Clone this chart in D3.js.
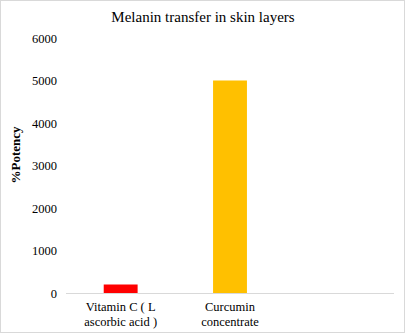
<!DOCTYPE html>
<html><head><meta charset="utf-8">
<script src="https://cdn.jsdelivr.net/npm/d3@7"></script>
<style>body{margin:0;background:#fff}svg{display:block}text{font-family:"Liberation Serif","Times New Roman",serif;fill:#000}</style>
</head><body><svg id="c" width="406" height="335"></svg>
<script>
const categories = [["Vitamin C ( L","ascorbic acid )"],["Curcumin","concentrate"],[""]];
const values = [200, 5000, null];
const colors = ["#FF0000", "#FFC000", "none"];
const yTicks = [0,1000,2000,3000,4000,5000,6000];
const title = "Melanin transfer in skin layers";
const yLabel = "%Potency";

const svg = d3.select("#c");
svg.append("rect").attr("x",0.5).attr("y",0.5).attr("width",404).attr("height",332)
  .attr("fill","#fff").attr("stroke","#D9D9D9");
const m = {l:66, r:394, t:38, b:293};
const x = d3.scaleBand().domain(d3.range(categories.length)).range([m.l, m.r]).paddingInner(0.69).paddingOuter(0.345);
const y = d3.scaleLinear().domain([0,6000]).range([m.b, m.t]);

svg.append("text").attr("x",203).attr("y",22).attr("text-anchor","middle").style("font-size","15px").text(title);

const ya = svg.append("g").attr("transform",`translate(${m.l},0)`)
  .call(d3.axisLeft(y).tickValues(yTicks).tickSize(0).tickPadding(9).tickFormat(d3.format("d")));
ya.select(".domain").remove();
ya.selectAll("text").style("font-family","Liberation Serif, serif").style("font-size","12.5px").attr("fill","#000");

svg.append("line").attr("x1",m.l).attr("x2",m.r).attr("y1",m.b+0.5).attr("y2",m.b+0.5).attr("stroke","#D9D9D9");

svg.selectAll("rect.bar").data(values.map((v,i)=>({v,i})).filter(d=>d.v!=null)).enter().append("rect")
  .attr("class","bar").attr("x",d=>x(d.i)).attr("width",x.bandwidth())
  .attr("y",d=>y(d.v)).attr("height",d=>y(0)-y(d.v)).attr("fill",d=>colors[d.i]);

categories.forEach((lines,i)=>{
  const t = svg.append("text").attr("text-anchor","middle").style("font-size","12.5px");
  lines.forEach((s,j)=>t.append("tspan").attr("x",x(i)+x.bandwidth()/2).attr("y",311+j*15).text(s));
});

svg.append("text").attr("transform","translate(20,155) rotate(-90)").attr("text-anchor","middle")
  .style("font-size","13px").style("font-weight","bold").text(yLabel);
</script></body></html>
